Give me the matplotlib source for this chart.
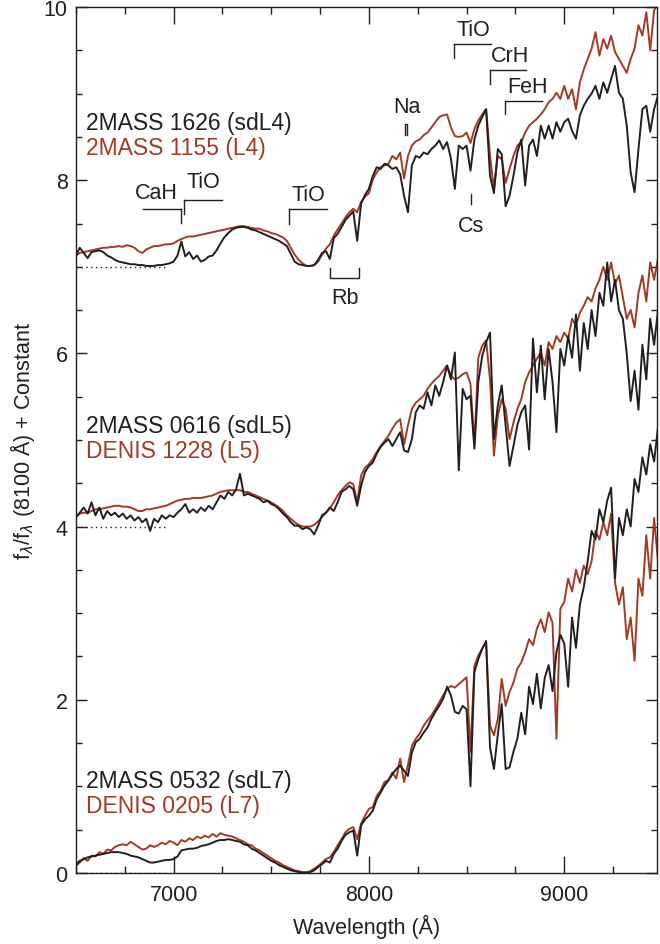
import numpy as np
import matplotlib
matplotlib.use('Agg')
import matplotlib.pyplot as plt
from matplotlib.ticker import MultipleLocator

plt.rcParams['font.family'] = ['Liberation Sans', 'DejaVu Sans']

# ------------------------------- data --------------------------------------- #
# common sampling grid (Angstrom), 20 A steps
wave = np.arange(6500, 9481, 20)

# 2MASS 1626 (sdL4), offset +7
flux_1626 = [
    7.13, 7.22, 7.16, 7.10, 7.17, 7.18, 7.19, 7.17, 7.13, 7.11,
    7.08, 7.06, 7.05, 7.04, 7.03, 7.03, 7.02, 7.02, 7.01, 7.01,
    7.01, 7.02, 7.02, 7.03, 7.04, 7.06, 7.13, 7.29, 7.12, 7.17,
    7.09, 7.13, 7.06, 7.08, 7.12, 7.13, 7.19, 7.27, 7.34, 7.39,
    7.43, 7.45, 7.46, 7.46, 7.45, 7.43, 7.42, 7.40, 7.38, 7.36,
    7.34, 7.32, 7.30, 7.27, 7.24, 7.15, 7.06, 7.03, 7.02, 7.01,
    7.01, 7.02, 7.08, 7.16, 7.18, 7.09, 7.33, 7.38, 7.46, 7.54,
    7.59, 7.64, 7.30, 7.73, 7.83, 7.90, 8.05, 8.15, 8.13, 8.19,
    8.17, 8.13, 8.15, 8.07, 7.82, 7.63, 8.17, 8.28, 8.26, 8.32,
    8.30, 8.36, 8.40, 8.46, 8.36, 8.44, 8.25, 7.90, 8.40, 8.36,
    8.40, 8.11, 8.47, 8.63, 8.73, 8.82, 8.05, 7.85, 8.36, 8.30,
    7.70, 7.82, 8.05, 8.32, 8.47, 7.94, 8.40, 8.47, 8.28, 8.63,
    8.48, 8.63, 8.48, 8.67, 8.56, 8.67, 8.71, 8.57, 8.48, 8.75,
    8.86, 8.94, 9.00, 9.09, 8.94, 9.13, 9.01, 9.17, 9.32, 9.01,
    8.94, 8.63, 8.09, 7.86, 8.36, 8.82, 8.86, 8.56, 8.82, 8.98,
]

# 2MASS 1155 (L4), offset +7
flux_1155 = [
    7.13, 7.16, 7.17, 7.18, 7.19, 7.20, 7.21, 7.22, 7.22, 7.23,
    7.23, 7.24, 7.23, 7.25, 7.24, 7.22, 7.18, 7.16, 7.20, 7.22,
    7.24, 7.24, 7.25, 7.26, 7.26, 7.27, 7.30, 7.32, 7.34, 7.35,
    7.35, 7.36, 7.37, 7.38, 7.39, 7.40, 7.41, 7.42, 7.43, 7.44,
    7.45, 7.46, 7.47, 7.47, 7.46, 7.45, 7.44, 7.44, 7.42, 7.41,
    7.39, 7.38, 7.36, 7.34, 7.30, 7.22, 7.14, 7.08, 7.04, 7.01,
    7.01, 7.02, 7.06, 7.14, 7.21, 7.26, 7.36, 7.43, 7.50, 7.57,
    7.63, 7.67, 7.63, 7.75, 7.81, 7.85, 8.01, 8.09, 8.15, 8.17,
    8.19, 8.28, 8.24, 8.32, 8.02, 8.28, 8.40, 8.45, 8.47, 8.52,
    8.55, 8.61, 8.67, 8.73, 8.75, 8.76, 8.61, 8.51, 8.50, 8.51,
    8.55, 8.43, 8.59, 8.69, 8.76, 8.82, 8.28, 7.90, 8.28, 8.24,
    7.97, 8.13, 8.28, 8.40, 8.44, 8.55, 8.63, 8.67, 8.71, 8.76,
    8.82, 8.90, 8.94, 9.01, 8.94, 9.09, 8.94, 9.05, 8.82, 9.13,
    9.28, 9.40, 9.52, 9.71, 9.44, 9.63, 9.52, 9.67, 9.48, 9.40,
    9.32, 9.24, 9.40, 9.52, 9.79, 9.67, 9.94, 9.50, 9.96, 10.05,
]

# 2MASS 0616 (sdL5), offset +4
flux_0616 = [
    4.11, 4.16, 4.22, 4.15, 4.28, 4.13, 4.22, 4.09, 4.18, 4.13,
    4.16, 4.11, 4.15, 4.09, 4.13, 4.07, 4.11, 4.05, 4.09, 3.95,
    4.09, 4.05, 4.13, 4.09, 4.13, 4.11, 4.16, 4.20, 4.26, 4.16,
    4.20, 4.16, 4.22, 4.18, 4.24, 4.20, 4.28, 4.36, 4.32, 4.40,
    4.36, 4.43, 4.61, 4.36, 4.38, 4.36, 4.34, 4.32, 4.28, 4.30,
    4.26, 4.24, 4.20, 4.15, 4.11, 4.05, 4.01, 4.01, 3.97, 3.99,
    3.97, 3.91, 4.01, 4.13, 4.16, 4.22, 4.18, 4.28, 4.40, 4.43,
    4.47, 4.43, 4.24, 4.47, 4.63, 4.70, 4.74, 4.84, 4.92, 4.97,
    5.01, 4.93, 5.01, 5.09, 4.88, 4.86, 5.01, 5.32, 5.40, 5.36,
    5.55, 5.40, 5.63, 5.51, 5.67, 5.86, 5.70, 6.01, 4.65, 5.59,
    5.47, 5.51, 4.90, 5.67, 5.97, 6.13, 6.24, 5.01, 5.40, 5.63,
    5.17, 4.70, 4.93, 5.17, 5.32, 5.40, 4.89, 6.17, 5.55, 6.09,
    5.47, 6.05, 5.67, 5.09, 6.05, 5.86, 6.20, 5.95, 6.45, 5.80,
    6.35, 6.05, 6.50, 6.20, 6.70, 6.55, 7.05, 6.60, 6.85, 6.50,
    6.40, 6.00, 5.45, 5.80, 5.35, 6.10, 5.70, 6.40, 6.10, 6.50,
]

# DENIS 1228 (L5), offset +4
flux_1228 = [
    4.11, 4.15, 4.16, 4.16, 4.18, 4.20, 4.20, 4.21, 4.22, 4.23,
    4.24, 4.24, 4.23, 4.23, 4.22, 4.20, 4.18, 4.18, 4.20, 4.20,
    4.21, 4.22, 4.23, 4.24, 4.26, 4.28, 4.30, 4.31, 4.32, 4.32,
    4.33, 4.33, 4.33, 4.34, 4.35, 4.36, 4.38, 4.40, 4.41, 4.42,
    4.42, 4.42, 4.42, 4.40, 4.40, 4.38, 4.36, 4.34, 4.32, 4.30,
    4.28, 4.25, 4.22, 4.18, 4.13, 4.09, 4.05, 4.02, 4.00, 4.00,
    4.00, 4.02, 4.06, 4.11, 4.16, 4.21, 4.28, 4.36, 4.42, 4.47,
    4.51, 4.49, 4.28, 4.59, 4.68, 4.72, 4.78, 4.86, 4.93, 4.99,
    5.05, 5.13, 5.20, 5.24, 4.95, 5.17, 5.36, 5.43, 5.47, 5.51,
    5.59, 5.65, 5.70, 5.74, 5.80, 5.86, 5.74, 5.70, 5.72, 5.76,
    5.78, 5.65, 4.95, 5.95, 6.09, 6.15, 5.70, 4.82, 5.28, 5.47,
    5.36, 5.01, 5.20, 5.36, 5.47, 5.67, 5.78, 5.86, 5.94, 6.01,
    5.86, 6.13, 6.05, 6.20, 6.13, 6.24, 6.17, 6.40, 6.32, 6.47,
    6.55, 6.65, 6.60, 6.75, 6.85, 7.00, 6.85, 7.05, 6.80, 6.90,
    6.65, 6.40, 6.50, 6.30, 6.70, 6.90, 6.60, 7.05, 6.85, 7.10,
]

# 2MASS 0532 (sdL7), offset 0
flux_0532 = [
    0.10, 0.14, 0.16, 0.18, 0.19, 0.20, 0.21, 0.22, 0.23, 0.24,
    0.24, 0.24, 0.23, 0.22, 0.20, 0.19, 0.18, 0.16, 0.14, 0.12,
    0.12, 0.13, 0.14, 0.15, 0.15, 0.16, 0.19, 0.26, 0.27, 0.28,
    0.28, 0.29, 0.31, 0.32, 0.33, 0.35, 0.37, 0.38, 0.38, 0.39,
    0.38, 0.37, 0.36, 0.33, 0.32, 0.28, 0.26, 0.23, 0.20, 0.17,
    0.14, 0.12, 0.09, 0.07, 0.05, 0.03, 0.02, 0.01, 0.00, 0.00,
    0.01, 0.03, 0.07, 0.10, 0.14, 0.12, 0.22, 0.28, 0.37, 0.44,
    0.47, 0.49, 0.20, 0.55, 0.62, 0.66, 0.72, 0.85, 0.93, 1.01,
    1.07, 1.14, 1.20, 1.24, 1.18, 1.12, 1.39, 1.51, 1.55, 1.62,
    1.68, 1.78, 1.86, 1.93, 2.01, 2.15, 2.05, 1.86, 1.84, 1.93,
    1.89, 1.00, 2.32, 2.47, 2.59, 2.68, 1.45, 1.20, 1.60, 1.95,
    1.20, 1.22, 1.40, 1.55, 1.85, 1.60, 2.15, 1.95, 2.30, 1.90,
    2.25, 2.40, 2.10, 2.55, 2.75, 2.65, 2.15, 2.95, 2.60, 3.10,
    3.30, 3.60, 3.95, 3.85, 4.20, 4.05, 4.30, 4.45, 3.40, 4.10,
    3.90, 4.20, 4.00, 4.55, 4.40, 4.80, 4.60, 4.95, 4.75, 5.15,
]

# DENIS 0205 (L7), offset 0
flux_0205 = [
    0.08, 0.12, 0.17, 0.14, 0.20, 0.19, 0.24, 0.22, 0.27, 0.26,
    0.30, 0.32, 0.33, 0.32, 0.36, 0.33, 0.30, 0.27, 0.28, 0.32,
    0.30, 0.32, 0.35, 0.33, 0.37, 0.35, 0.32, 0.38, 0.36, 0.40,
    0.38, 0.42, 0.40, 0.43, 0.41, 0.45, 0.42, 0.46, 0.44, 0.43,
    0.42, 0.40, 0.38, 0.36, 0.33, 0.32, 0.28, 0.26, 0.23, 0.20,
    0.17, 0.14, 0.12, 0.09, 0.07, 0.05, 0.03, 0.02, 0.01, 0.01,
    0.02, 0.05, 0.08, 0.12, 0.16, 0.18, 0.24, 0.32, 0.39, 0.47,
    0.51, 0.53, 0.39, 0.57, 0.66, 0.74, 0.76, 0.89, 0.95, 1.05,
    1.07, 1.16, 1.09, 1.32, 1.05, 1.25, 1.47, 1.55, 1.61, 1.70,
    1.76, 1.82, 1.89, 1.97, 2.05, 2.12, 2.16, 2.14, 2.18, 2.22,
    2.26, 1.40, 2.39, 2.51, 2.59, 2.66, 1.70, 1.59, 1.78, 2.24,
    1.93, 2.09, 2.20, 2.36, 2.43, 2.55, 2.70, 2.63, 2.82, 2.93,
    2.78, 3.01, 2.89, 1.55, 3.05, 3.13, 3.40, 3.25, 3.50, 3.35,
    3.55, 3.45, 3.60, 3.95, 3.85, 4.05, 3.90, 4.15, 3.35, 3.10,
    3.30, 2.70, 2.95, 2.45, 3.40, 3.20, 3.90, 3.40, 4.10, 3.60,
]

pairs = [
    ('2MASS 1626 (sdL4)', flux_1626, '2MASS 1155 (L4)', flux_1155, 7.0, 8.67),
    ('2MASS 0616 (sdL5)', flux_0616, 'DENIS 1228 (L5)', flux_1228, 4.0, 5.17),
    ('2MASS 0532 (sdL7)', flux_0532, 'DENIS 0205 (L7)', flux_0205, 0.0, 1.07),
]

# feature markers: label, x0, x1, bar y, leg y, leg side, label x, label y
brackets = [
    ('CaH', 6845, 7037, 7.67, 7.51, 'right', 6914, 7.86),
    ('TiO', 7054, 7247, 7.77, 7.61, 'left', 7155, 7.98),
    ('TiO', 7592, 7785, 7.67, 7.50, 'left', 7691, 7.84),
    ('TiO', 8438, 8623, 9.57, 9.41, 'left', 8535, 9.74),
    ('CrH', 8618, 8806, 9.27, 9.11, 'left', 8724, 9.44),
    ('FeH', 8696, 8888, 8.92, 8.76, 'left', 8811, 9.08),
]

black = '#231f20'
red = '#a33a24'
fs = 15.5
fs_name = 16.5

# ---------------------- create the figure and axes ------------------------- #
fig = plt.figure(figsize=(6.6, 9.45), dpi=100)
ax = fig.add_axes([0.115, 0.0752, 0.8805, 0.9163])

for name_sd, f_sd, name_d, f_d, off, ylab in pairs:
    ax.plot([6500, 6960], [off, off], color=black, lw=1.0, ls=(0, (1, 2.5)))
    ax.plot(wave, f_d, color=red, lw=1.4)
    ax.plot(wave, f_sd, color=black, lw=1.4)
    ax.text(6554, ylab, name_sd, color=black, fontsize=fs_name, va='center')
    ax.text(6554, ylab - 0.29, name_d, color=red, fontsize=fs_name, va='center')

# ---------------------------- feature labels -------------------------------- #
for lab, x0, x1, yb, yl, side, xt, yt in brackets:
    xleg = x1 if side == 'right' else x0
    ax.plot([x0, x1], [yb, yb], color=black, lw=1.0)
    ax.plot([xleg, xleg], [yb, yl], color=black, lw=1.0)
    ax.text(xt, yt, lab, fontsize=fs, ha='center', va='center', color=black)

# Rb: bracket opening upward below the spectrum
ax.plot([7803, 7803, 7951, 7951], [6.99, 6.87, 6.87, 6.99], color=black, lw=1.0)
ax.text(7877, 6.65, 'Rb', fontsize=fs, ha='center', va='center', color=black)
# Na doublet
ax.plot([8185, 8185, 8197, 8197], [8.52, 8.65, 8.65, 8.52], color=black, lw=1.0)
ax.text(8195, 8.85, 'Na', fontsize=fs, ha='center', va='center', color=black)
# Cs
ax.plot([8521, 8521], [7.72, 7.84], color=black, lw=1.0)
ax.text(8522, 7.48, 'Cs', fontsize=fs, ha='center', va='center', color=black)

# ---------------------------- titles & misc --------------------------------- #
ax.set_xlim(6500, 9475)
ax.set_ylim(0, 10)
ax.xaxis.set_major_locator(MultipleLocator(1000))
ax.xaxis.set_minor_locator(MultipleLocator(250))
ax.yaxis.set_major_locator(MultipleLocator(2))
ax.yaxis.set_minor_locator(MultipleLocator(0.5))
ax.tick_params(which='both', direction='in', top=True, right=True,
               labelsize=fs, colors=black, width=1.0)
ax.tick_params(axis='x', which='major', length=12, pad=8)
ax.tick_params(axis='x', which='minor', length=5)
ax.tick_params(axis='y', which='major', length=8, pad=6)
ax.tick_params(axis='y', which='minor', length=4.5)
for sp in ax.spines.values():
    sp.set_linewidth(1.0)
    sp.set_color(black)

ax.set_xlabel('Wavelength (Å)', fontsize=fs, color=black, labelpad=6)
ax.set_ylabel(r'f$_\lambda$/f$_\lambda$ (8100 Å) + Constant', fontsize=fs,
              color=black, labelpad=5)

fig.savefig('out.png', dpi=100)
